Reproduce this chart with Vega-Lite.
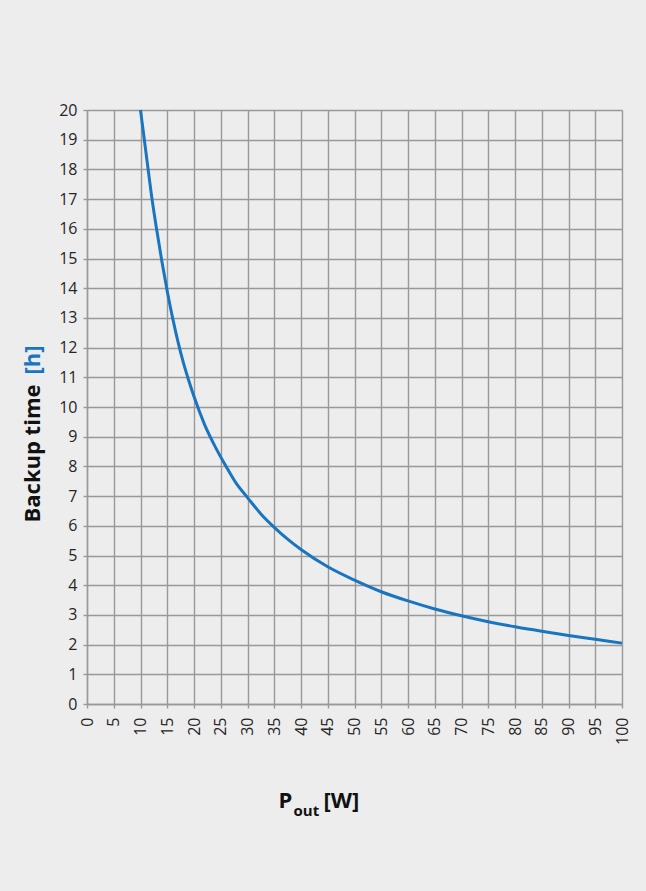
{
  "$schema": "https://vega.github.io/schema/vega-lite/v6.json",
  "width": 535,
  "height": 594,
  "autosize": "none",
  "padding": {"left": 87, "top": 110, "right": 24, "bottom": 187},
  "background": "#ededed",
  "config": {
    "view": {"stroke": null, "fill": "#ededed"},
    "axis": {
      "labelFont": "Open Sans",
      "labelFontSize": 16,
      "labelColor": "#262626",
      "titleFont": "Open Sans",
      "titleFontWeight": "bold",
      "titleColor": "#111111",
      "gridColor": "#999999",
      "gridWidth": 1.4,
      "gridOpacity": 1,
      "domainColor": "#999999",
      "domainWidth": 1.4,
      "tickColor": "#999999",
      "tickWidth": 1.4,
      "tickSize": 4
    }
  },
  "data": {
    "values": [
      {"p": 10, "t": 20.0},
      {"p": 10.5, "t": 19.3},
      {"p": 11, "t": 18.6},
      {"p": 11.5, "t": 17.9},
      {"p": 12, "t": 17.2},
      {"p": 13, "t": 16.0},
      {"p": 14, "t": 14.9},
      {"p": 15, "t": 13.9},
      {"p": 16, "t": 13.0},
      {"p": 17, "t": 12.2},
      {"p": 18, "t": 11.5},
      {"p": 19, "t": 10.9},
      {"p": 20, "t": 10.35},
      {"p": 22, "t": 9.4},
      {"p": 24, "t": 8.65},
      {"p": 26, "t": 8.0},
      {"p": 28, "t": 7.4},
      {"p": 30, "t": 6.95},
      {"p": 32.5, "t": 6.4},
      {"p": 35, "t": 5.95},
      {"p": 37.5, "t": 5.55},
      {"p": 40, "t": 5.2},
      {"p": 45, "t": 4.62},
      {"p": 50, "t": 4.17},
      {"p": 55, "t": 3.78},
      {"p": 60, "t": 3.47},
      {"p": 65, "t": 3.2},
      {"p": 70, "t": 2.97},
      {"p": 75, "t": 2.77},
      {"p": 80, "t": 2.6},
      {"p": 85, "t": 2.45},
      {"p": 90, "t": 2.31},
      {"p": 95, "t": 2.18},
      {"p": 100, "t": 2.05}
    ]
  },
  "layer": [
    {
      "mark": {"type": "line", "color": "#1a75c1", "strokeWidth": 3, "interpolate": "monotone"},
      "encoding": {
        "x": {
          "field": "p", "type": "quantitative",
          "scale": {"domain": [0, 100], "nice": false},
          "axis": {
            "values": [0,5,10,15,20,25,30,35,40,45,50,55,60,65,70,75,80,85,90,95,100],
            "labelAngle": -90, "labelPadding": 9, "labelFlush": false, "labelOverlap": false,
            "title": "P", "titleFontSize": 22, "titleAlign": "left", "titleBaseline": "alphabetic",
            "titleX": 191, "titleY": 103
          }
        },
        "y": {
          "field": "t", "type": "quantitative",
          "scale": {"domain": [0, 20], "nice": false},
          "axis": {
            "values": [0,1,2,3,4,5,6,7,8,9,10,11,12,13,14,15,16,17,18,19,20],
            "labelPadding": 6, "labelFlush": false, "labelOverlap": false,
            "title": "Backup time", "titleFontSize": 22, "titleAngle": -90,
            "titleAlign": "left", "titleBaseline": "alphabetic",
            "titleX": -48, "titleY": 412
          }
        }
      }
    },
    {
      "mark": {"type": "line", "opacity": 0},
      "encoding": {
        "x": {
          "field": "p", "type": "quantitative",
          "axis": {
            "orient": "top", "labels": false, "ticks": false, "domain": false, "grid": false,
            "title": "out", "titleFontSize": 15, "titleAlign": "left", "titleBaseline": "alphabetic",
            "titleX": 206, "titleY": 705
          }
        },
        "y": {
          "field": "t", "type": "quantitative",
          "axis": {
            "orient": "right", "labels": false, "ticks": false, "domain": false, "grid": false,
            "title": "[h]", "titleFontSize": 22, "titleColor": "#1a75c1", "titleAngle": -90,
            "titleAlign": "left", "titleBaseline": "alphabetic",
            "titleX": -583, "titleY": 264
          }
        }
      }
    },
    {
      "mark": {"type": "line", "opacity": 0},
      "encoding": {
        "x": {
          "field": "p", "type": "quantitative",
          "axis": {
            "orient": "top", "labels": false, "ticks": false, "domain": false, "grid": false,
            "title": "[W]", "titleFontSize": 22, "titleAlign": "left", "titleBaseline": "alphabetic",
            "titleX": 236, "titleY": 697
          }
        },
        "y": {"field": "t", "type": "quantitative", "axis": null}
      }
    }
  ],
  "resolve": {"axis": {"x": "independent", "y": "independent"}}
}
